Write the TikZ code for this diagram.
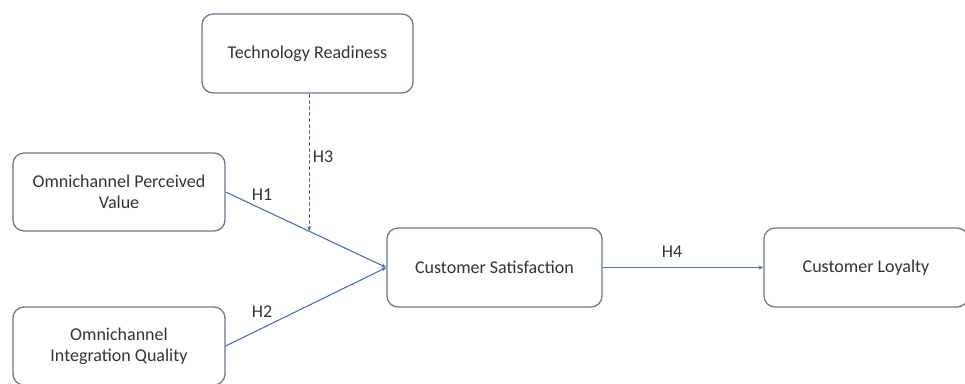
\documentclass[tikz,border=0pt]{standalone}
\usepackage{fontspec}
\setmainfont{Carlito}
\usetikzlibrary{arrows.meta,calc}
\definecolor{boxline}{HTML}{6B7B8F}
\definecolor{arrowblue}{HTML}{4A6FB5}
\definecolor{txt}{HTML}{333333}
\begin{document}
\begin{tikzpicture}[x=1pt,y=-1pt,
  cbox/.style={draw=boxline, line width=1.3pt, rounded corners=11pt, fill=white,
    text=txt, font=\fontsize{18}{21}\selectfont, align=center, inner sep=0pt},
  link/.style={draw=arrowblue, line width=1.1pt, -{Stealth[length=5pt,width=4pt]}},
  hlab/.style={text=txt, font=\fontsize{18}{21}\selectfont}]
\useasboundingbox (0,0) rectangle (965,383);
\node[cbox, minimum width=211pt, minimum height=79pt] (tr) at (307.5,53.5) {Technology Readiness};
\node[cbox, minimum width=212pt, minimum height=78pt] (opv) at (119,192) {Omnichannel Perceived\\Value};
\node[cbox, minimum width=212pt, minimum height=78pt] (oiq) at (119,346) {Omnichannel\\Integration Quality};
\node[cbox, minimum width=215pt, minimum height=79pt] (cs) at (494.5,267.5) {Customer Satisfaction};
\node[cbox, minimum width=204pt, minimum height=79pt] (cl) at (866,267.5) {Customer Loyalty};
\draw[link] (opv.east) -- (cs.west);
\draw[link] (oiq.east) -- (cs.west);
\coordinate (mid) at ($(opv.east)!0.52!(cs.west)$);
\coordinate (m) at (tr.south -| mid);
\draw[link, dashed, dash pattern=on 4pt off 2pt, line width=0.9pt] (m) -- (mid);
\draw[link] (cs.east) -- (cl.west);
\node[hlab] (h1) at (262,195) {H1};
\node[hlab] (h2) at (262,312) {H2};
\node[hlab] (h3) at (323,157) {H3};
\node[hlab] (h4) at (672,252) {H4};
\end{tikzpicture}
\end{document}
